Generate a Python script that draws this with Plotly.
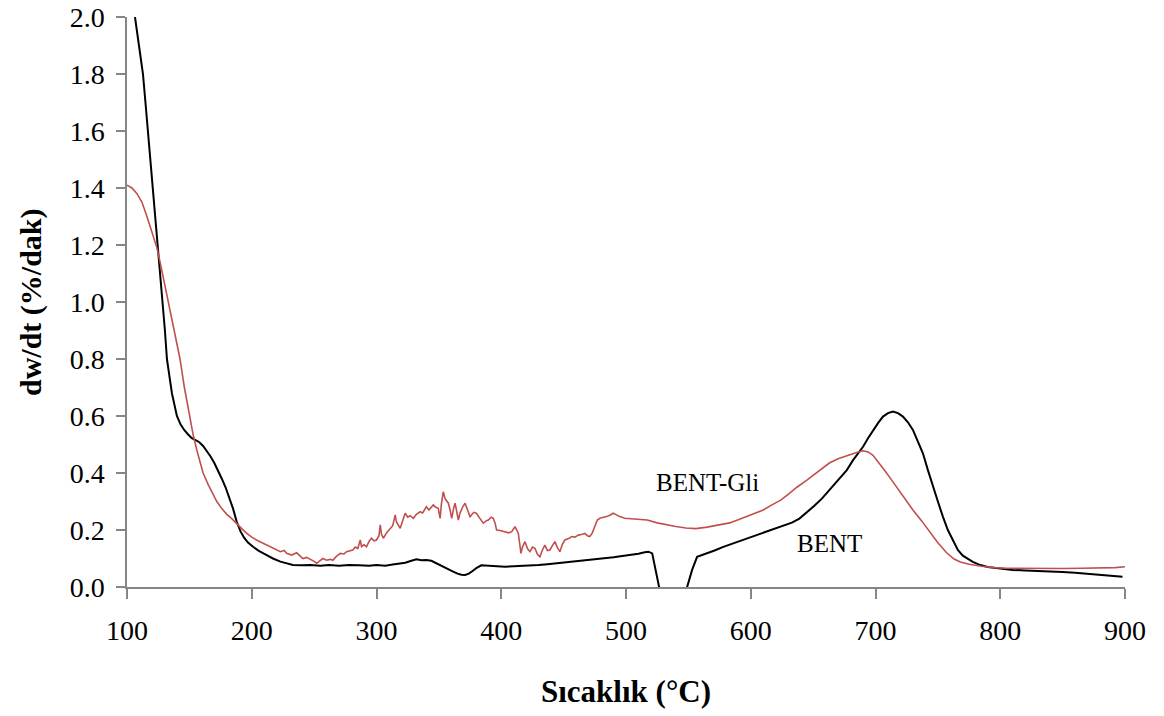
import plotly.graph_objects as go

# BENT-Gli (red) curve: temperature (°C) and dw/dt (%/dak)
gli_x = [100, 104, 108, 112, 116, 120, 124, 127, 130, 133, 136, 139, 142.5, 146, 150, 153, 156, 159, 161,
         165, 169, 172, 176, 180, 184, 188, 192, 196, 200, 205, 209, 214, 218, 223, 226, 228, 232, 236, 238,
         241, 244, 247, 250, 252, 255, 257, 260, 263, 265, 268, 271, 274, 276, 279, 281, 283, 285, 287, 288,
         290, 292, 294, 296, 298, 300, 302, 303, 304, 305.5, 308, 311, 313, 315, 316, 319, 321, 323, 325, 327,
         329.5, 332, 335, 337, 340, 342, 345.5, 347.5, 349.5, 351, 352, 353.5, 355, 357.6, 359, 360.3, 362, 363,
         365.6, 367, 369, 371, 373, 375, 378, 380, 383, 385.6, 388, 389.6, 392, 393.6, 395, 396.3, 399, 403,
         406, 408.4, 411, 413.7, 415.8, 417, 419, 421, 423, 425, 427, 429, 431, 433, 435, 437, 439, 441, 443,
         445, 447, 449, 451, 454, 456.5, 459, 461.8, 465, 467, 469, 471, 473, 475, 477, 479, 482, 484.5, 487,
         489.8, 492, 495, 499, 504, 510, 517, 525, 532, 540, 548, 556, 565, 575, 583, 590, 597, 604, 610, 617,
         624, 630, 637, 645, 652, 658, 663, 670, 676, 681, 686, 690, 694, 698, 703, 708, 713, 717, 723, 730,
         737, 744, 750, 757, 763, 768, 775, 785, 795, 805, 820, 835, 850, 865, 880, 892, 900]
gli_y = [1.41, 1.40, 1.38, 1.35, 1.30, 1.245, 1.19, 1.13, 1.065, 1.0, 0.935, 0.87, 0.80, 0.70, 0.60, 0.535,
         0.48, 0.435, 0.40, 0.36, 0.325, 0.30, 0.275, 0.255, 0.24, 0.224, 0.205, 0.188, 0.175, 0.162, 0.153,
         0.142, 0.133, 0.124, 0.128, 0.118, 0.112, 0.12, 0.112, 0.10, 0.104, 0.098, 0.09, 0.083, 0.092, 0.10,
         0.094, 0.097, 0.094, 0.108, 0.118, 0.116, 0.124, 0.128, 0.13, 0.14, 0.135, 0.165, 0.142, 0.148, 0.141,
         0.16, 0.171, 0.162, 0.165, 0.18, 0.218, 0.185, 0.171, 0.19, 0.206, 0.215, 0.253, 0.228, 0.206, 0.235,
         0.259, 0.245, 0.25, 0.241, 0.255, 0.264, 0.26, 0.282, 0.27, 0.288, 0.28, 0.276, 0.241, 0.29, 0.334,
         0.31, 0.294, 0.27, 0.241, 0.28, 0.294, 0.235, 0.26, 0.28, 0.294, 0.27, 0.247, 0.262, 0.259, 0.24,
         0.224, 0.232, 0.235, 0.245, 0.241, 0.225, 0.2, 0.198, 0.194, 0.19, 0.194, 0.212, 0.188, 0.118, 0.14,
         0.159, 0.135, 0.124, 0.14, 0.136, 0.115, 0.106, 0.13, 0.147, 0.128, 0.13, 0.145, 0.159, 0.138, 0.124,
         0.15, 0.165, 0.17, 0.177, 0.175, 0.182, 0.185, 0.188, 0.18, 0.177, 0.19, 0.212, 0.235, 0.241, 0.244,
         0.247, 0.252, 0.259, 0.254, 0.247, 0.241, 0.24, 0.238, 0.235, 0.225, 0.218, 0.212, 0.207, 0.205, 0.21,
         0.218, 0.225, 0.236, 0.248, 0.26, 0.27, 0.288, 0.305, 0.325, 0.35, 0.375, 0.398, 0.418, 0.435, 0.45,
         0.46, 0.468, 0.474, 0.478, 0.474, 0.462, 0.435, 0.405, 0.375, 0.35, 0.31, 0.27, 0.232, 0.19, 0.155,
         0.12, 0.098, 0.088, 0.08, 0.073, 0.068, 0.066, 0.065, 0.065, 0.065, 0.066, 0.066, 0.068, 0.071]

# BENT (black) curve
bent_x = [106.4, 109.5, 112.8, 114.8, 116.8, 118.8, 120.8, 122.8, 124.8, 126.8, 128.8, 130.4, 132, 134, 136,
          138, 140, 143, 146, 149, 152, 155, 158, 161, 164, 167, 170, 173, 176, 179, 182, 185, 188, 191, 194,
          197, 201, 206, 212, 217, 223, 228, 233, 240, 247, 255, 262, 270, 278, 286, 294, 300, 307, 313, 318,
          323, 328, 332, 336, 340, 344, 348, 353, 357, 361, 365, 368, 371, 374, 377, 380, 384, 389, 395, 403,
          410, 417, 424, 430, 437, 444, 450, 457, 463, 470, 477, 483, 490, 497, 504, 510, 515, 518, 521, 524,
          527, 529, 546, 549, 553, 557, 561, 565, 571, 578, 585, 592, 600, 607, 614, 620, 627, 633, 639, 645,
          651, 657, 663, 670, 677, 682, 686, 690, 694, 698, 702, 706, 710, 714, 718, 722, 726, 730, 734, 738,
          742, 746, 750, 754, 758, 762, 766, 770, 774, 778, 784, 790, 800, 810, 820, 830, 840, 850, 860, 870,
          880, 890, 898]
bent_y = [2.0, 1.9, 1.8, 1.7, 1.6, 1.5, 1.4, 1.3, 1.2, 1.1, 1.0, 0.9, 0.8, 0.73, 0.68, 0.64, 0.6, 0.57, 0.55,
          0.535, 0.522, 0.515, 0.508, 0.495, 0.478, 0.458, 0.435, 0.41, 0.38, 0.35, 0.315, 0.275, 0.228, 0.195,
          0.172, 0.156, 0.141, 0.126, 0.112, 0.1, 0.089, 0.082, 0.077, 0.076, 0.077, 0.075, 0.077, 0.075, 0.077,
          0.076, 0.075, 0.077, 0.075, 0.079, 0.082, 0.085, 0.092, 0.097, 0.094, 0.095, 0.092, 0.083, 0.071,
          0.063, 0.055, 0.047, 0.043, 0.042, 0.047, 0.056, 0.066, 0.076, 0.074, 0.072, 0.071, 0.073, 0.074,
          0.076, 0.077, 0.08, 0.083, 0.087, 0.089, 0.091, 0.095, 0.098, 0.1, 0.104, 0.109, 0.113, 0.117, 0.122,
          0.124, 0.118, 0.06, -0.01, -0.15, -0.15, 0.0, 0.06, 0.106, 0.112, 0.118, 0.128, 0.141, 0.152, 0.162,
          0.175, 0.185, 0.196, 0.205, 0.216, 0.226, 0.24, 0.262, 0.285, 0.31, 0.34, 0.375, 0.41, 0.445, 0.47,
          0.492, 0.522, 0.551, 0.575, 0.598, 0.61, 0.616, 0.61, 0.598, 0.578, 0.551, 0.51, 0.469, 0.41, 0.352,
          0.3, 0.247, 0.2, 0.165, 0.13, 0.11, 0.1, 0.088, 0.077, 0.07, 0.065, 0.06, 0.058, 0.057, 0.055, 0.053,
          0.05, 0.047, 0.043, 0.04, 0.036]

x_ticks = [100, 200, 300, 400, 500, 600, 700, 800, 900]
y_ticks = [0.0, 0.2, 0.4, 0.6, 0.8, 1.0, 1.2, 1.4, 1.6, 1.8, 2.0]

labels = ["BENT-Gli", "BENT"]
label_x = [565.7, 663.5]
label_y = [0.368, 0.154]

FONT = "Liberation Serif"
AX = "#868686"

fig = go.Figure()
fig.add_trace(go.Scatter(x=bent_x, y=bent_y, mode="lines", name="BENT",
                         line=dict(color="#000000", width=2)))
fig.add_trace(go.Scatter(x=gli_x, y=gli_y, mode="lines", name="BENT-Gli",
                         line=dict(color="#C0504D", width=1.6)))

for t, lx, ly in zip(labels, label_x, label_y):
    fig.add_annotation(x=lx, y=ly, xref="x", yref="y", text=t, showarrow=False,
                       font=dict(family=FONT, size=25, color="#000000"))

fig.add_annotation(x=0.5, y=0, xref="paper", yref="paper", text="<b>Sıcaklık (°C)</b>",
                   showarrow=False, yshift=-104, yanchor="middle",
                   font=dict(family=FONT, size=31, color="#000000"))
fig.add_annotation(x=0, y=0.5, xref="paper", yref="paper", text="<b>dw/dt (%/dak)</b>",
                   showarrow=False, xshift=-96, xanchor="center", textangle=-90,
                   font=dict(family=FONT, size=30, color="#000000"))

fig.update_layout(
    width=1164, height=716, autosize=False,
    margin=dict(l=127, r=39, t=17, b=129, autoexpand=False),
    paper_bgcolor="white", plot_bgcolor="white",
    showlegend=False,
    font=dict(family=FONT, size=25, color="#000000"),
)
fig.update_xaxes(range=[100, 900], tickvals=x_ticks, ticks="outside", ticklen=10, tickwidth=1.5,
                 tickcolor=AX, showline=True, linecolor=AX, linewidth=1.5, showgrid=False,
                 zeroline=False, tickfont=dict(family=FONT, size=28), ticklabelstandoff=8,
                 automargin=False)
fig.update_yaxes(range=[0, 2.0], tickvals=y_ticks, tickformat=".1f", ticks="outside", ticklen=9,
                 tickwidth=1.5, tickcolor=AX, showline=True, linecolor=AX, linewidth=1.5,
                 showgrid=False, zeroline=False, tickfont=dict(family=FONT, size=28),
                 ticklabelstandoff=6, automargin=False)

fig.write_html("out.html")
